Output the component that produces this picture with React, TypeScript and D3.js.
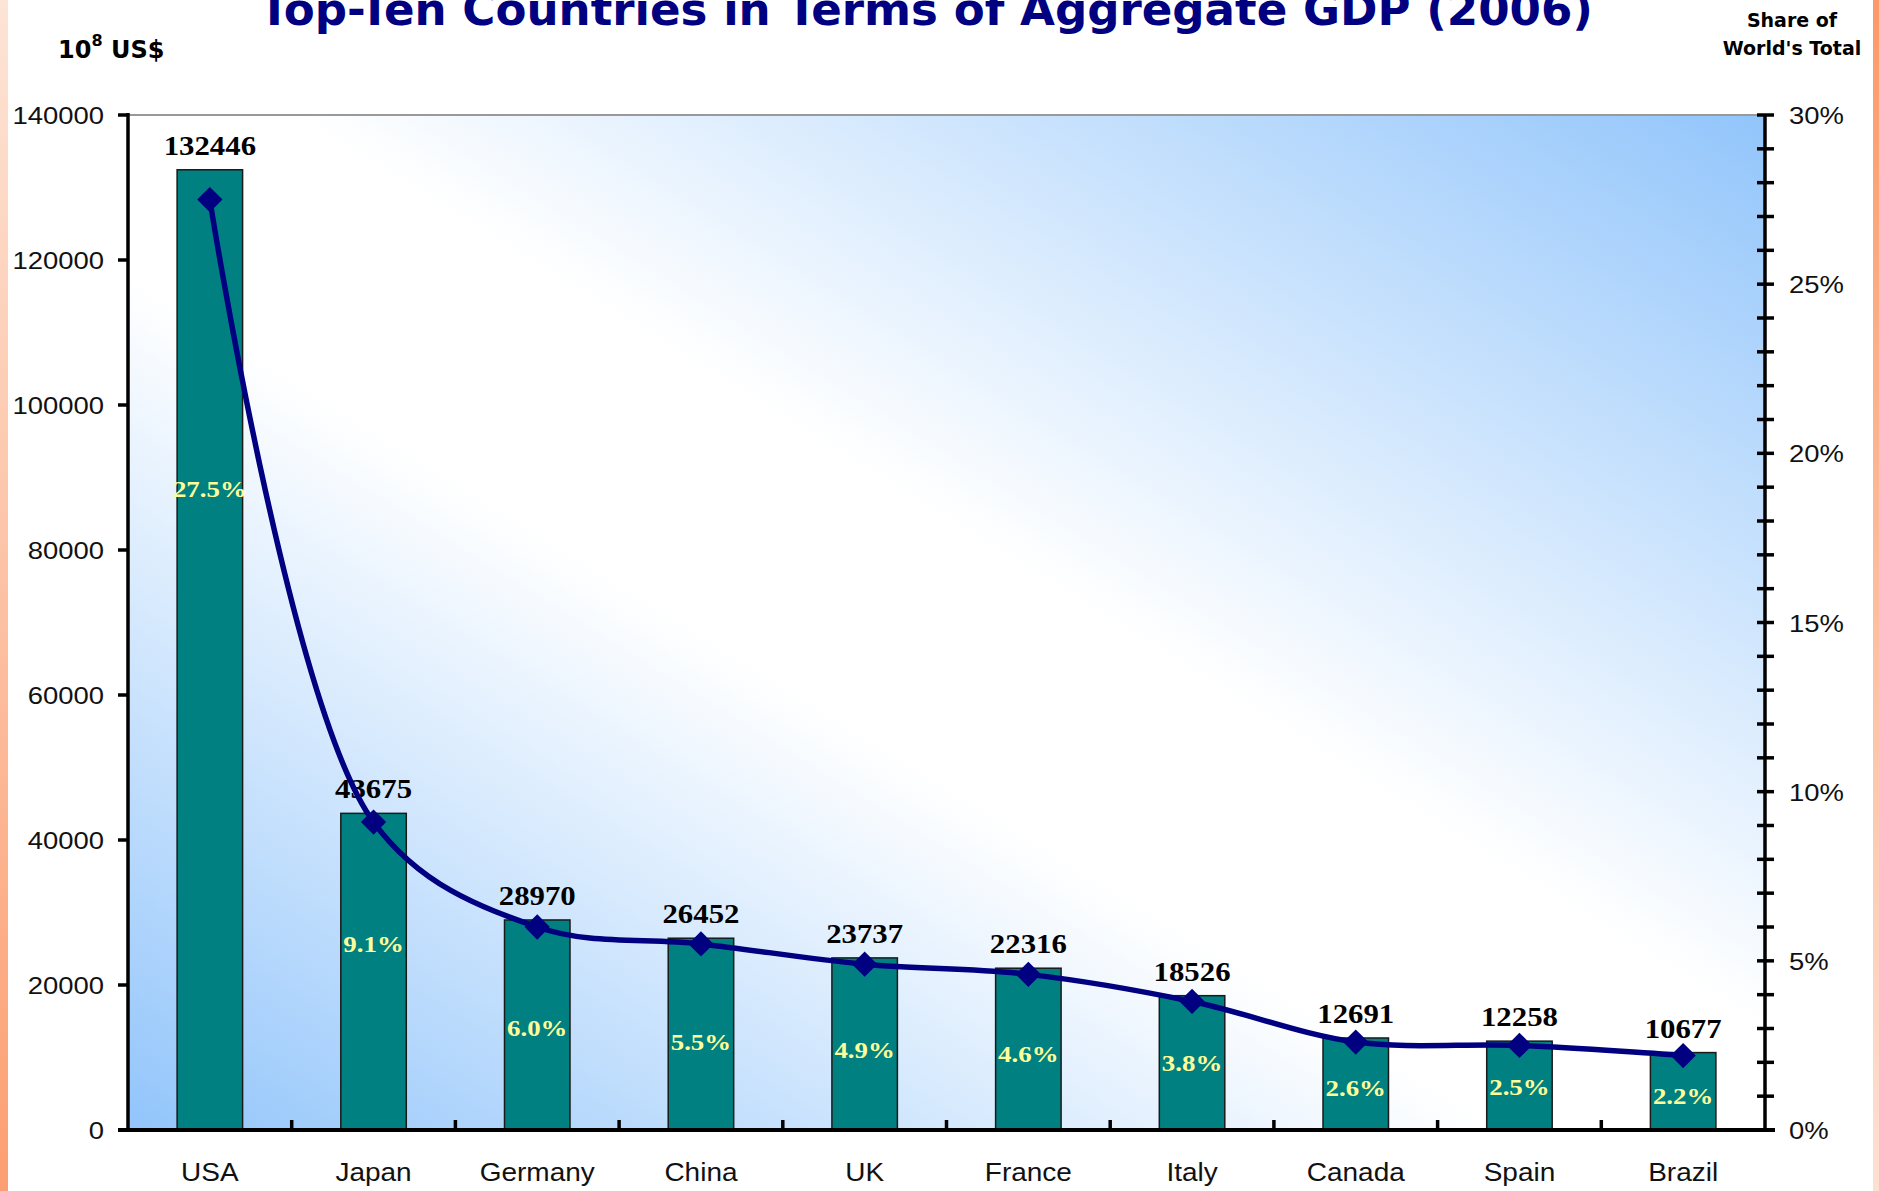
import React from "react";
import * as d3 from "d3";

const countries = ["USA", "Japan", "Germany", "China", "UK", "France", "Italy", "Canada", "Spain", "Brazil"];
const gdp = [132446, 43675, 28970, 26452, 23737, 22316, 18526, 12691, 12258, 10677];
const share = [27.5, 9.1, 6.0, 5.5, 4.9, 4.6, 3.8, 2.6, 2.5, 2.2];
// where each share label sits, in GDP units
const shareLabelAt = [88400, 25700, 14100, 12100, 11000, 10500, 9200, 5800, 5900, 4700];
const leftTicks = [0, 20000, 40000, 60000, 80000, 100000, 120000, 140000];
const rightMajor = [0, 5, 10, 15, 20, 25, 30];
const rightMinor = d3.range(0, 31, 1);

const W = 1879;
const H = 1191;
const L = 128;
const R = 1765;
const T = 115;
const B = 1130;
const SX = 1.12;

export default function App() {
  const x = d3.scaleBand<string>().domain(countries).range([L, R]).padding(0);
  const y = d3.scaleLinear().domain([0, 140000]).range([B, T]);
  const y2 = d3.scaleLinear().domain([0, 30]).range([B, T]);
  const bw = x.bandwidth() * 0.4;
  const cx = (c: string) => (x(c) as number) + x.bandwidth() / 2;

  const line = d3
    .line<number>()
    .x((_, i) => cx(countries[i]))
    .y((d) => y2(d))
    .curve(d3.curveCatmullRom.alpha(0.5));
  const diamond = d3.symbol().type(d3.symbolSquare).size(320)();

  const stretched = (tx: number, ty: number) => `translate(${tx},${ty}) scale(${SX},1)`;

  return (
    <svg width={W} height={H} style={{ position: "absolute", left: 0, top: 0, background: "#fff" }}>
      <defs>
        <linearGradient id="bg" x1="0" y1="1" x2="1" y2="0">
          <stop offset="0" stopColor="#92c5fb" />
          <stop offset="0.42" stopColor="#ffffff" />
          <stop offset="0.55" stopColor="#ffffff" />
          <stop offset="1" stopColor="#92c5fb" />
        </linearGradient>
        <linearGradient id="lstrip" x1="0" y1="0" x2="0" y2="1">
          <stop offset="0" stopColor="#fde4d6" />
          <stop offset="1" stopColor="#fc9f72" />
        </linearGradient>
        <linearGradient id="rstrip" x1="0" y1="0" x2="0" y2="1">
          <stop offset="0" stopColor="#fc9a68" />
          <stop offset="1" stopColor="#fde0d2" />
        </linearGradient>
      </defs>
      <rect x={0} y={0} width={W} height={H} fill="#ffffff" />
      <rect x={0} y={0} width={8} height={H} fill="url(#lstrip)" />
      <rect x={1873} y={0} width={6} height={H} fill="url(#rstrip)" />

      {/* title */}
      <text
        x={259}
        y={25}
        fontFamily="DejaVu Sans"
        fontWeight="bold"
        fontSize={44}
        fill="#000080"
        textLength={1334}
        lengthAdjust="spacingAndGlyphs"
      >
        Top-Ten Countries in Terms of Aggregate GDP (2006)
      </text>

      {/* unit labels */}
      <text x={58} y={58} fontFamily="DejaVu Sans" fontWeight="bold" fontSize={24} fill="#000">
        10
        <tspan dy={-12} fontSize={16}>8</tspan>
        <tspan dy={12}> US$</tspan>
      </text>
      <g fontFamily="DejaVu Sans" fontWeight="bold" fontSize={19} fill="#000" textAnchor="middle">
        <text x={1792} y={27}>Share of</text>
        <text x={1792} y={55}>World's Total</text>
      </g>

      {/* plot area */}
      <rect x={L} y={T} width={R - L} height={B - T} fill="url(#bg)" />
      <line x1={L} x2={R} y1={T} y2={T} stroke="#999" strokeWidth={2} />

      {/* bars */}
      {countries.map((c, i) => (
        <rect
          key={c}
          x={cx(c) - bw / 2}
          y={y(gdp[i])}
          width={bw}
          height={B - y(gdp[i])}
          fill="#008080"
          stroke="#1a1a1a"
          strokeWidth={1.5}
        />
      ))}

      {/* value labels */}
      {countries.map((c, i) => (
        <text
          key={c}
          transform={stretched(cx(c), y(gdp[i]) - 15)}
          textAnchor="middle"
          fontFamily="Liberation Serif"
          fontWeight="bold"
          fontSize={27.5}
          fill="#000"
        >
          {gdp[i]}
        </text>
      ))}

      {/* share labels */}
      {countries.map((c, i) => (
        <text
          key={c}
          transform={stretched(cx(c), y(shareLabelAt[i]) + 8)}
          textAnchor="middle"
          fontFamily="Liberation Serif"
          fontWeight="bold"
          fontSize={24}
          fill="#ffff99"
        >
          {share[i].toFixed(1)}%
        </text>
      ))}

      {/* share line */}
      <path d={line(share) || ""} fill="none" stroke="#000080" strokeWidth={5.5} />
      {share.map((s, i) => (
        <path
          key={i}
          d={diamond || ""}
          transform={`translate(${cx(countries[i])},${y2(s)}) rotate(45)`}
          fill="#000080"
        />
      ))}

      {/* left axis */}
      <line x1={L} x2={L} y1={T - 2} y2={B + 2} stroke="#000" strokeWidth={3.5} />
      {leftTicks.map((t) => (
        <g key={t}>
          <line x1={L - 10} x2={L} y1={y(t)} y2={y(t)} stroke="#000" strokeWidth={3.5} />
          <text
            transform={stretched(104, y(t) + 9)}
            textAnchor="end"
            fontFamily="Liberation Sans"
            fontSize={24.5}
            fill="#111"
          >
            {t}
          </text>
        </g>
      ))}

      {/* bottom axis */}
      <line x1={L - 10} x2={R + 10} y1={B} y2={B} stroke="#000" strokeWidth={4} />
      {countries.slice(1).map((c) => (
        <line key={c} x1={x(c) as number} x2={x(c) as number} y1={B} y2={B - 10} stroke="#000" strokeWidth={3.5} />
      ))}
      {countries.map((c) => (
        <text
          key={c}
          transform={stretched(cx(c), 1181)}
          textAnchor="middle"
          fontFamily="Liberation Sans"
          fontSize={25}
          fill="#111"
        >
          {c}
        </text>
      ))}

      {/* right axis */}
      <line x1={R} x2={R} y1={T} y2={B} stroke="#000" strokeWidth={3.5} />
      {rightMinor.map((t) => (
        <line key={t} x1={R - 8} x2={R + 9} y1={y2(t)} y2={y2(t)} stroke="#000" strokeWidth={3.5} />
      ))}
      {rightMajor.map((t) => (
        <text
          key={t}
          transform={stretched(1789, y2(t) + 9)}
          fontFamily="Liberation Sans"
          fontSize={24.5}
          fill="#111"
        >
          {t}%
        </text>
      ))}
    </svg>
  );
}
